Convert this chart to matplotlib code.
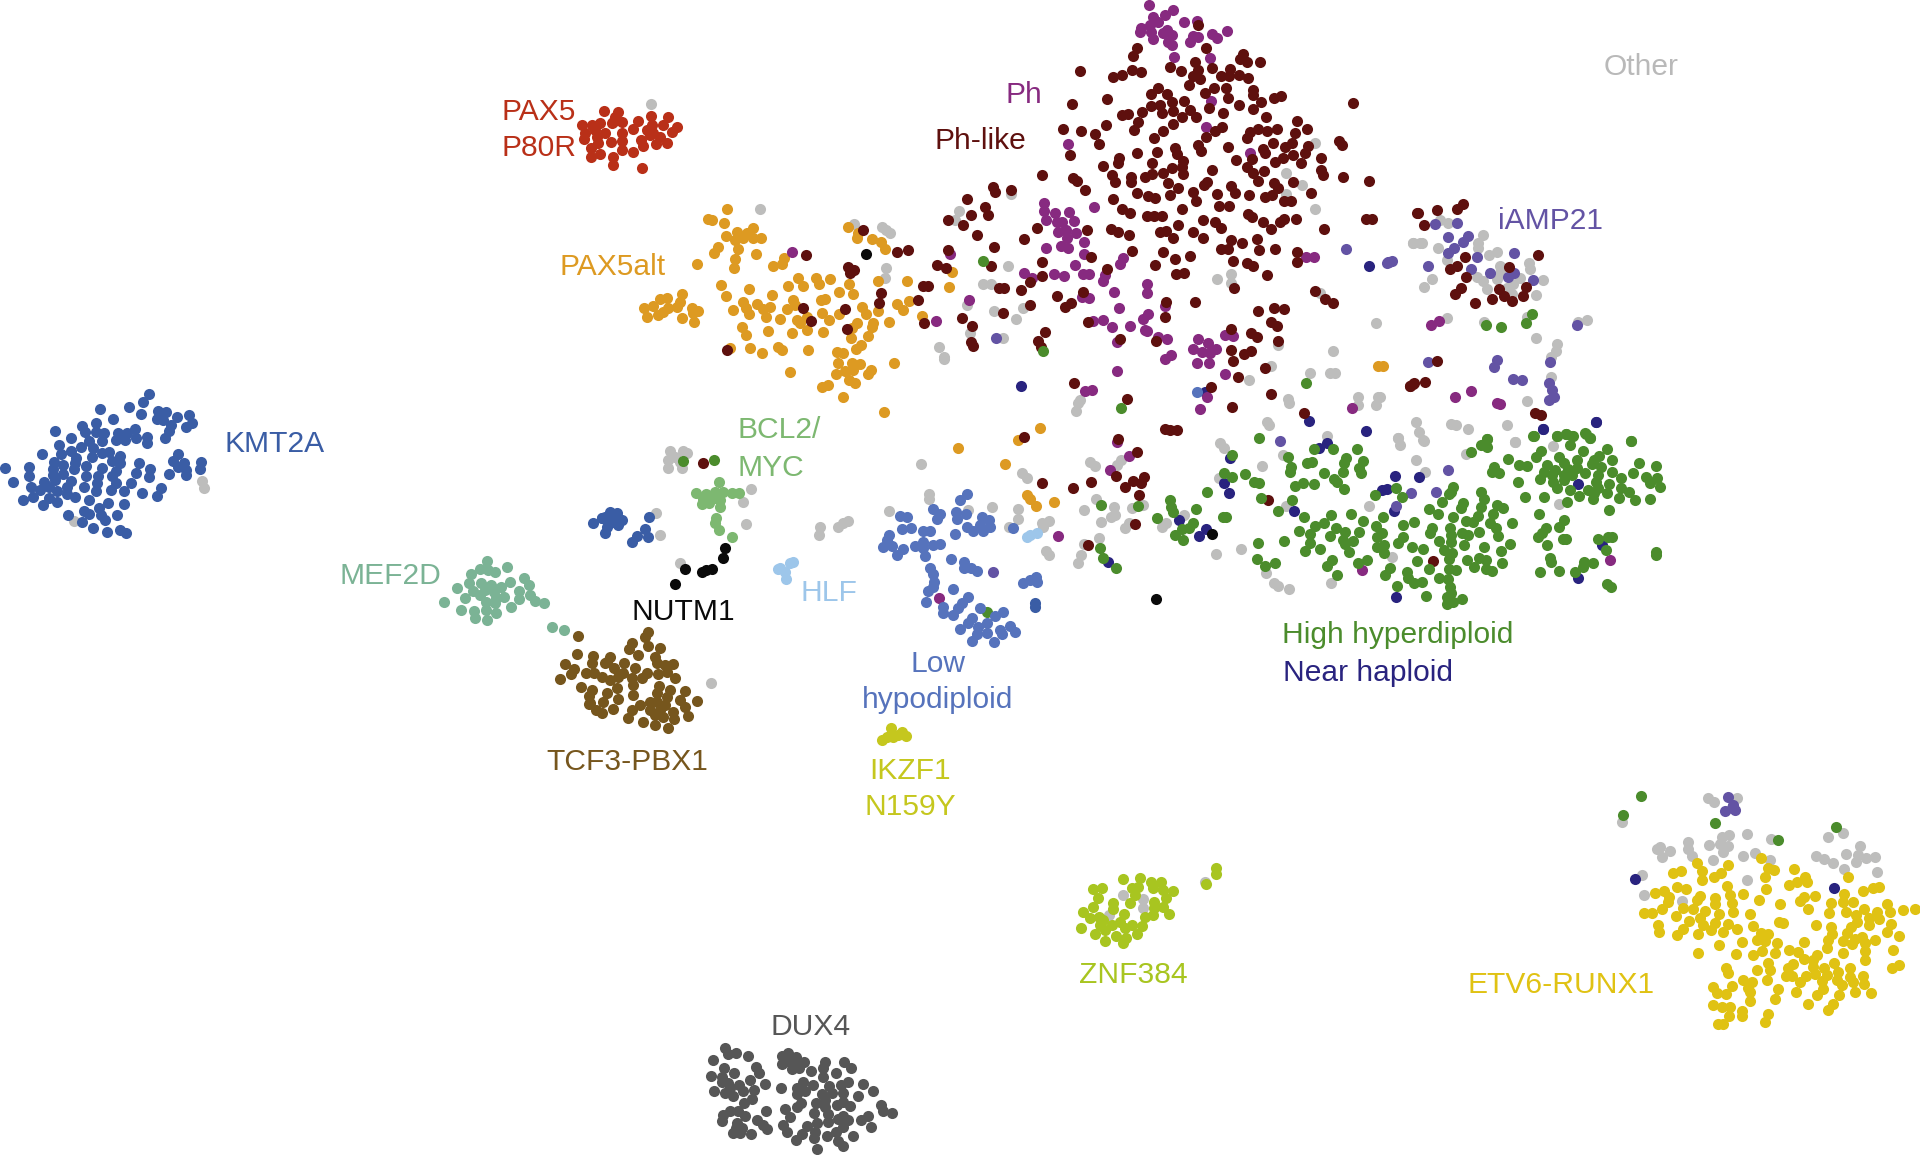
import numpy as np
import matplotlib
matplotlib.use("Agg")
import matplotlib.pyplot as plt

plt.rcParams["font.family"] = ["Liberation Sans", "DejaVu Sans"]

# points were read off enlarged crops of the picture, so each list is in the
# units of its crop: (left, top, x scale, y scale)
C1 = (0, 370, 2.45, 3)
C2 = (480, 80, 3, 3)
C3 = (900, 0, 3, 3)
C4 = (1380, 190, 3, 3)
C5 = (1000, 380, 2.306, 3)
C6 = (600, 400, 3, 3)
C7 = (1600, 780, 3, 3)
C8 = (680, 1020, 3, 3)
C9 = (1060, 850, 3, 3)

kmt2a_c1 = [(366,72),(351,96),(317,112),(345,131),(245,117),(276,148),(387,122),(407,127),(433,140),(464,134),(384,147),(400,150),(420,165),(470,158),(455,172),(415,183),(405,204),(236,160),(202,168),(208,187),(235,185),(256,190),(134,182),(173,204),(288,188),(310,188),(330,176),(285,210),(307,210),(332,205),(361,200),(360,220),(144,224),(218,213),(250,213),(198,232),(228,235),(175,242),(103,252),(150,252),(250,250),(268,247),(226,262),(293,257),(185,265),(275,272),(295,278),(183,278),(340,280),(132,275),(155,285),(437,253),(425,272),(450,280),(492,277),(70,292),(12,293),(130,298),(210,288),(250,293),(182,297),(437,292),(490,297),(285,302),(368,298),(455,300),(130,315),(155,312),(70,318),(210,318),(240,318),(333,310),(413,311),(275,318),(455,315),(365,322),(32,336),(108,335),(135,330),(175,332),(238,340),(283,340),(322,340),(120,350),(75,350),(165,350),(205,352),(97,360),(235,362),(272,360),(305,364),(395,355),(140,362),(347,368),(385,378),(165,372),(183,382),(82,382),(120,385),(219,390),(56,391),(140,397),(264,398),(305,403),(106,406),(243,413),(205,422),(166,434),(219,433),(248,435),(287,436),(257,449),(200,455),(229,473),(293,479),(263,487),(309,488),(1453,460),(1475,445)]
kmt2a_c6 = [(30,335),(15,350),(50,340),(65,360),(40,365),(5,355),(30,355),(55,375),(20,380),(15,400),(45,350),(146,351),(135,388),(110,408),(145,410),(96,427),(1305,610),(1305,622)]
mef2d_c1 = [(1192,574),(1243,591),(1175,597),(1155,611),(1213,605),(1195,600),(1285,625),(1148,638),(1178,640),(1204,645),(1250,637),(1228,650),(1119,653),(1295,646),(1160,662),(1188,660),(1210,665),(1272,662),(1140,683),(1175,675),(1215,685),(1235,680),(1298,675),(1272,687),(1087,696),(1190,695),(1212,700),(1310,694),(1334,698),(1253,710),(1130,721),(1162,722),(1190,720),(1214,729),(1163,745),(1193,750),(1352,771),(1381,779)]
tcf3_c1 = [(1416,799),(1413,853),(1452,858),(1385,881),(1450,880),(1407,897),(1398,913),(1435,909),(1455,910),(1373,926),(1424,951),(1450,960),(1443,977),(1445,1000),(1442,1003),(1461,1020)]
tcf3_c6 = [(145,697),(135,712),(97,730),(145,738),(87,748),(180,744),(115,764),(165,770),(30,770),(22,785),(72,788),(170,790),(195,795),(218,792),(105,803),(42,805),(15,790),(70,820),(140,820),(175,822),(200,815),(225,835),(30,840),(55,830),(95,835),(125,835),(5,830),(100,855),(50,865),(178,858),(210,870),(255,872),(170,880),(20,880),(100,885),(200,890),(55,897),(240,900),(290,904),(150,905),(170,905),(10,905),(120,915),(195,915),(255,920),(40,928),(95,930),(150,930),(180,930),(220,935),(165,945),(265,947),(85,955),(190,950),(130,965),(222,958),(165,975),(203,985),(5,940)]
pax5p80r_c2 = [(372,93),(415,97),(405,110),(513,108),(563,112),(475,124),(305,135),(335,135),(360,130),(395,130),(425,125),(590,141),(548,135),(515,135),(460,148),(500,150),(345,150),(315,160),(375,158),(425,158),(520,160),(575,155),(540,170),(312,178),(350,170),(392,185),(425,183),(483,180),(560,188),(527,192),(488,198),(355,190),(333,205),(426,211),(459,216),(360,222),(332,232),(400,232),(398,254),(487,263),(510,165),(400,125)]
pax5alt_c2 = [(740,386),(683,416),(697,420),(731,429),(820,444),(770,455),(737,467),(800,460),(843,473),(765,480),(820,475),(790,475),(714,502),(703,518),(773,508),(828,523),(912,535),(766,538),(762,564),(878,557),(905,553),(650,552),(1105,441),(1130,475),(1133,458),(1175,477),(1202,485),(1216,508),(1193,604),(1282,602),(1407,620),(1415,575),(722,616),(738,648),(807,627),(875,645),(925,619),(953,593),(968,618),(1007,594),(1017,612),(1049,596),(1108,612),(1120,642),(1076,635),(1035,656),(1022,660),(605,643),(560,654),(540,658),(520,678),(492,683),(600,665),(590,680),(565,683),(635,685),(655,692),(640,700),(502,712),(535,705),(548,697),(606,715),(641,726),(758,689),(790,665),(798,683),(806,702),(832,672),(848,686),(870,682),(857,711),(900,718),(940,660),(945,675),(920,688),(980,712),(950,720),(960,730),(1027,698),(1048,720),(1078,703),(1145,680),(1157,702),(1195,693),(1252,671),(1287,664),(1268,690),(1227,725),(1325,708),(1130,730),(1115,745),(1178,730),(1176,740),(785,742),(798,765),(865,753),(936,759),(981,750),(1028,755),(1164,767),(1112,775),(1143,796),(1127,806),(810,804),(750,805),(845,818),(893,800),(906,811),(984,811),(1070,817),(1088,820),(1075,850),(1117,850),(1140,852),(1241,848),(1172,870),(1165,882),(1120,870),(1095,873),(1068,881),(929,875),(1108,900),(1124,909),(1043,915),(1025,920),(1090,952),(1213,997)]
pax5alt_c3 = [(1433,1097),(1448,1098)]
pax5alt_c6 = [(1075,143),(1215,192),(1255,120),(1320,83),(1280,285),(1290,297),(1308,318),(1363,305)]
ph_c2 = [(937,515)]
ph_c3 = [(748,14),(818,31),(795,44),(758,50),(775,65),(853,67),(890,63),(722,85),(750,75),(720,97),(752,95),(800,90),(815,105),(790,100),(980,92),(935,103),(952,113),(880,108),(895,110),(870,125),(760,118),(805,125),(817,135),(822,170),(930,174),(932,304),(918,380),(505,431),(1050,460),(432,608),(433,634),(465,640),(507,636),(582,622),(437,660),(470,665),(487,665),(523,663),(473,695),(497,690),(527,700),(500,715),(551,725),(437,745),(483,738),(503,745),(552,761),(150,763),(1217,770),(1242,772),(670,773),(660,793),(525,796),(372,819),(395,835),(461,823),(493,828),(548,821),(568,823),(616,826),(610,842),(740,851),(741,878),(641,877),(208,899),(545,890),(566,893),(658,924),(743,943),(796,917),(728,957),(108,963),(580,962),(608,960),(637,980),(690,977),(735,990),(742,992),(775,1010),(800,1018),(650,1026),(975,1005),(998,1007),(893,1018),(923,1028),(878,1047),(948,1047),(905,1055),(930,1060),(892,1088),(928,1088),(812,1066),(796,1077),(651,1112),(976,1121),(554,1172),(576,1170),(922,1190)]
ph_c4 = [(153,404),(178,393),(225,620),(272,604),(350,640),(360,643)]
ph_c5 = [(461,87),(812,85),(270,185),(298,227),(254,270),(134,469),(1407,540),(834,570)]
ph_c6 = [(1017,595)]
phlike_c2 = [(1149,449),(978,526),(1251,517),(1103,560),(1122,569),(1110,578),(1202,638),(1197,668),(968,683),(993,722),(1095,687),(1102,746),(740,811)]
phlike_c3 = [(893,75),(710,143),(700,168),(918,143),(1028,163),(1020,178),(1041,186),(1081,186),(884,186),(541,212),(809,202),(843,214),(697,210),(723,217),(640,232),(666,226),(895,210),(935,204),(990,208),(880,228),(900,238),(963,228),(988,228),(1018,225),(1043,233),(866,255),(775,263),(752,283),(802,282),(941,265),(915,278),(978,265),(985,295),(1058,270),(1058,285),(622,298),(516,312),(815,305),(852,302),(1143,289),(1122,295),(1083,305),(1360,308),(753,318),(780,315),(820,333),(785,338),(870,330),(928,325),(1018,315),(1058,328),(725,335),(665,345),(685,343),(847,350),(888,350),(968,338),(1097,350),(713,365),(619,375),(820,373),(1192,362),(490,387),(702,390),(542,394),(586,403),(965,380),(945,392),(788,394),(1050,395),(1075,388),(1100,392),(1131,387),(1220,388),(1185,398),(918,410),(1040,413),(763,413),(597,433),(1120,430),(1318,424),(1326,435),(894,435),(826,444),(985,441),(1088,448),(1155,440),(1175,430),(1225,437),(903,453),(772,457),(830,462),(1095,460),(1180,465),(1215,460),(511,465),(712,460),(657,475),(1263,473),(1007,481),(1055,478),(850,483),(755,490),(655,490),(1125,487),(1150,475),(1202,490),(610,497),(1040,500),(847,502),(815,505),(935,510),(1262,510),(1092,513),(1268,525),(425,525),(788,520),(755,522),(735,530),(850,523),(1060,520),(636,525),(692,530),(1328,532),(1408,542),(518,535),(530,543),(692,545),(645,545),(1075,543),(1122,548),(1180,546),(805,550),(920,545),(912,556),(993,558),(278,560),(555,570),(835,565),(1135,565),(332,571),(1005,580),(284,575),(880,575),(711,580),(745,588),(950,583),(1047,585),(1234,578),(810,585),(765,595),(1095,590),(1115,586),(639,596),(202,598),(888,603),(1152,603),(1173,604),(255,622),(958,618),(987,617),(846,628),(667,627),(690,638),(264,645),(212,645),(1043,643),(1055,652),(740,648),(762,648),(785,647),(143,660),(1397,656),(1417,656),(1551,638),(910,659),(945,665),(1187,656),(1153,658),(1140,666),(1090,665),(189,675),(412,685),(963,683),(1112,687),(633,687),(835,676),(1273,687),(560,690),(655,697),(688,704),(780,695),(797,693),(878,695),(231,705),(820,715),(910,715),(372,718),(993,721),(1072,717),(1027,728),(282,742),(24,749),(143,750),(695,753),(963,748),(985,748),(1077,750),(1125,748),(788,757),(1192,757),(870,768),(825,778),(572,770),(425,785),(1000,783),(1190,787),(1042,790),(1060,798),(110,796),(138,803),(274,799),(766,795),(620,807),(425,828),(828,821),(853,820),(1100,825),(390,845),(1003,864),(70,857),(84,857),(297,865),(312,863),(363,871),(1244,874),(548,876),(472,889),(55,901),(1275,897),(1300,909),(797,905),(886,907),(390,915),(513,908),(495,921),(1121,925),(1153,926),(1074,932),(308,940),(187,955),(796,951),(217,977),(72,968),(565,965),(1112,966),(1132,978),(434,995),(992,988),(1052,998),(1072,1010),(1133,1024),(212,1025),(220,1038),(413,1022),(422,1040),(661,1016),(768,1023),(993,1051),(1052,1052),(1031,1061),(1000,1084),(1094,1104),(1014,1131),(522,1150),(933,1160),(1530,1157),(1113,1182),(680,1198),(1543,1150)]
phlike_c4 = [(115,68),(172,61),(250,42),(230,58),(133,104),(255,202),(232,229),(210,237),(474,196),(387,231),(258,261),(243,295),(224,313),(438,290),(358,298),(372,317),(430,319),(335,327),(395,333),(286,339),(170,512),(135,576),(100,583),(90,587),(465,670),(482,675)]
phlike_c5 = [(534,80),(700,99),(272,178),(317,216),(268,287),(332,292),(307,303),(326,310),(288,321),(97,309),(209,307),(169,323),(320,345),(617,361),(312,432),(203,494),(999,543),(380,147),(393,150),(408,151),(56,170)]
phlike_c6 = [(309,188)]
iamp21_c3 = [(288,1014),(1337,747),(1468,786),(1460,790)]
iamp21_c4 = [(166,103),(230,100),(263,137),(203,141),(250,157),(222,175),(204,189),(402,189),(291,202),(35,213),(25,217),(145,227),(274,237),(331,249),(402,250),(385,262),(459,269),(590,405),(511,516),(350,511),(343,531),(143,516),(400,568),(425,569),(508,580),(515,600),(522,620),(508,629)]
iamp21_c5 = [(645,183),(1033,270),(947,340),(1005,336),(913,378)]
iamp21_c6 = [(1178,516)]
iamp21_c7 = [(384,52),(400,75),(405,90),(375,92),(395,85)]
hyper_c3 = [(248,782),(430,1053),(1218,1149)]
hyper_c4 = [(457,373),(438,399),(319,405),(362,412),(322,747),(460,738),(532,738),(558,733),(578,738),(617,733),(630,745),(752,752)]
hyper_c5 = [(278,85),(598,175),(535,225),(725,208),(768,208),(823,208),(1123,178),(1110,195),(1122,200),(1087,216),(665,232),(720,245),(707,250),(797,235),(793,250),(837,242),(670,260),(668,275),(828,265),(790,275),(832,278),(748,278),(1231,168),(1285,168),(1305,162),(1320,168),(1350,160),(1360,175),(1315,195),(1454,183),(1400,208),(1345,212),(1248,213),(1237,232),(1288,230),(1382,228),(1370,240),(1412,241),(1172,237),(1330,240),(1300,248),(1473,250),(1513,258),(1196,254),(1215,257),(1262,255),(1140,262),(1365,253),(1387,260),(1310,268),(1330,265),(1412,275),(1135,275),(1150,278),(1255,275),(1280,270),(1350,280),(1460,280),(516,280),(565,282),(535,292),(1380,285),(1272,285),(1300,285),(1320,285),(1490,290),(1515,295),(1433,293),(1245,298),(585,305),(597,308),(770,298),(778,305),(1195,307),(1275,305),(1300,300),(1375,305),(1405,312),(1500,310),(1523,322),(680,317),(698,310),(723,313),(1285,325),(1315,330),(1355,330),(1380,325),(1433,325),(793,327),(1045,320),(1040,335),(913,325),(478,335),(1110,335),(1335,348),(1370,340),(1400,340),(1450,335),(1255,350),(1427,355),(865,346),(927,352),(1210,352),(1115,358),(1500,356),(392,361),(1035,342),(1020,365),(1465,360),(1368,358),(603,355),(673,359),(1067,370),(1110,380),(1145,375),(1160,385),(1308,365),(232,375),(318,378),(395,380),(400,395),(640,392),(452,388),(990,387),(1062,385),(1405,391),(763,404),(810,401),(1010,403),(1243,403),(702,410),(362,413),(515,410),(522,410),(883,410),(1045,410),(1103,408),(1137,403),(1300,420),(838,424),(955,426),(727,437),(748,428),(929,435),(1075,423),(1090,425),(1130,430),(868,437),(775,443),(445,428),(997,443),(1038,443),(1180,430),(1290,440),(1258,445),(690,453),(795,455),(827,457),(435,445),(420,448),(880,460),(992,458),(1065,458),(1105,455),(1143,445),(1250,460),(1148,468),(404,465),(716,463),(760,467),(930,470),(1080,465),(1040,465),(870,472),(1240,470),(1298,477),(1305,477),(1380,477),(1403,470),(1412,472),(422,480),(790,480),(814,482),(1013,482),(1040,487),(716,488),(595,490),(654,484),(1177,491),(230,503),(737,506),(795,492),(870,500),(885,495),(917,490),(950,502),(1070,495),(1117,500),(975,508),(1262,495),(704,513),(805,515),(885,520),(1025,510),(1042,520),(1155,512),(1397,510),(1513,515),(1513,525),(238,533),(593,537),(635,550),(1035,537),(1268,533),(1078,540),(1105,535),(846,539),(612,557),(765,540),(755,557),(826,548),(962,544),(1120,540),(1158,549),(1347,545),(1270,547),(1368,550),(268,563),(900,563),(1035,568),(990,568),(1093,560),(1052,571),(1120,567),(1135,572),(1345,562),(1245,576),(1288,574),(1325,577),(778,585),(888,584),(938,575),(942,595),(1012,595),(1032,598),(955,610),(972,605),(1400,612),(915,618),(1408,620),(1038,622),(983,647),(1030,650),(1040,640),(1065,656),(1030,673),(1045,667)]
hyper_c6 = [(250,183),(343,180),(1160,635)]
hyper_c7 = [(122,47),(69,106),(344,130),(535,181),(708,142)]
near_c3 = [(362,1157),(915,1175),(1407,797)]
near_c4 = [(648,697),(490,716)]
near_c5 = [(713,122),(843,154),(753,188),(735,205),(530,235),(1253,147),(1374,127),(910,287),(967,290),(517,310),(1333,312),(528,338),(880,330),(892,328),(677,392),(908,393),(413,419),(476,448),(458,468),(1388,495),(248,546),(1334,594),(913,650)]
near_c7 = [(106,298),(703,324)]
lowhypo_c3 = [(890,1175)]
lowhypo_c6 = [(1100,282),(1080,300),(900,347),(922,351),(998,328),(1020,342),(1068,335),(1098,342),(1012,357),(1072,357),(1145,350),(1168,360),(1100,380),(1140,375),(905,387),(932,384),(970,392),(990,392),(1170,380),(1118,392),(1150,392),(1240,383),(1065,403),(868,405),(862,420),(968,425),(1020,433),(998,436),(945,438),(850,440),(875,438),(908,447),(890,465),(970,445),(975,468),(1052,476),(1092,487),(1093,505),(1112,505),(1132,512),(990,505),(1000,522),(1002,545),(1000,560),(985,572),(1058,567),(1105,590),(1085,610),(979,606),(1030,620),(1075,625),(1028,640),(1060,645),(1140,625),(1210,635),(1185,648),(1115,655),(1105,670),(1160,668),(1080,687),(1135,680),(1230,677),(1200,690),(1245,695),(1160,700),(1205,703),(1130,702),(1115,722),(1183,725),(1307,530),(1290,540),(1268,548),(1310,545)]
bcl2_c6 = [(356,245),(287,278),(318,282),(345,275),(370,275),(395,278),(418,280),(310,297),(335,290),(360,300),(305,313),(327,310),(360,320),(347,353),(345,370),(358,390),(397,410),(345,295),(315,295)]
nutm1_c2 = [(1157,521)]
nutm1_c5 = [(490,462),(360,656)]
nutm1_c6 = [(376,445),(369,475),(254,506),(337,507),(305,515),(318,510),(226,551)]
hlf_c6 = [(580,485),(570,490),(540,505),(555,515),(558,537),(535,508),(1280,410),(1290,405),(1312,398)]
ikzf1_c6 = [(872,985),(905,995),(918,1007),(895,1005),(880,1010),(860,1010),(845,1020),(880,1005)]
etv6_c7 = [(482,234),(290,248),(384,256),(218,279),(243,274),(305,273),(362,279),(342,290),(505,265),(522,270),(582,268),(305,299),(496,290),(745,290),(614,292),(620,305),(590,307),(567,315),(380,319),(232,320),(258,327),(192,332),(166,339),(498,326),(837,322),(820,325),(790,332),(428,341),(390,345),(300,348),(208,352),(645,347),(732,343),(345,355),(290,360),(612,352),(601,362),(476,360),(205,365),(395,368),(345,372),(730,367),(758,367),(541,371),(692,370),(250,385),(278,388),(187,388),(316,392),(862,373),(624,386),(793,386),(910,390),(944,386),(398,396),(132,400),(155,400),(450,402),(228,409),(358,403),(688,399),(738,397),(870,397),(832,395),(767,405),(300,415),(267,422),(345,430),(808,415),(838,418),(770,425),(536,427),(550,429),(649,436),(310,435),(385,433),(173,435),(872,432),(460,437),(752,440),(808,435),(248,447),(333,451),(411,446),(692,442),(370,456),(176,456),(230,464),(294,462),(861,457),(740,460),(695,463),(785,470),(896,467),(505,463),(482,460),(765,478),(471,480),(495,482),(685,480),(825,479),(425,486),(728,484),(755,493),(357,494),(530,490),(612,487),(795,490),(680,505),(795,512),(880,510),(567,511),(294,520),(595,515),(524,518),(485,514),(460,525),(409,522),(729,519),(650,525),(612,537),(640,540),(795,540),(503,549),(578,552),(703,550),(897,554),(875,563),(377,565),(470,571),(510,570),(565,565),(640,560),(672,565),(750,563),(558,588),(575,588),(383,578),(617,587),(645,582),(715,577),(680,585),(790,587),(600,606),(428,600),(501,600),(665,603),(710,600),(750,590),(455,606),(760,607),(339,620),(395,618),(725,615),(792,612),(445,625),(533,627),(670,628),(588,635),(350,640),(378,642),(450,637),(652,645),(766,635),(812,638),(716,645),(524,656),(450,664),(700,672),(340,675),(365,680),(390,680),(625,671),(427,692),(685,690),(505,703),(387,709),(427,708),(495,726),(355,732),(370,732)]
dux4_c8 = [(135,85),(145,102),(168,100),(205,109),(100,120),(228,140),(133,145),(163,158),(237,158),(92,168),(125,170),(210,181),(125,187),(145,190),(255,191),(178,195),(150,205),(103,214),(190,212),(222,210),(135,220),(160,228),(215,238),(193,250),(150,272),(175,272),(130,285),(257,274),(195,287),(127,302),(232,301),(170,310),(248,315),(262,327),(185,325),(168,325),(160,340),(180,338),(212,341),(325,100),(305,108),(348,110),(373,125),(305,133),(330,125),(355,125),(335,148),(358,145),(394,153),(435,125),(430,145),(491,125),(512,143),(468,160),(430,170),(370,185),(400,195),(503,185),(483,195),(447,197),(548,193),(303,205),(350,205),(375,212),(580,214),(350,222),(425,222),(455,218),(490,220),(534,229),(362,250),(352,262),(407,248),(435,240),(490,245),(470,255),(510,258),(435,260),(603,255),(610,272),(637,278),(316,268),(402,279),(443,282),(563,287),(330,292),(490,287),(445,305),(475,297),(505,300),(543,300),(310,315),(410,310),(380,317),(490,320),(572,320),(322,335),(405,335),(468,335),(365,342),(440,348),(520,347),(347,360),(403,355),(475,362),(488,377),(412,388)]
znf384_c9 = [(190,87),(239,83),(272,95),(303,97),(100,118),(127,114),(115,143),(215,115),(235,110),(280,115),(310,120),(340,124),(225,135),(318,145),(160,160),(283,155),(210,160),(100,172),(158,178),(282,175),(310,170),(69,186),(192,192),(327,193),(280,195),(255,200),(90,205),(118,200),(130,210),(180,215),(120,225),(155,225),(215,225),(62,234),(245,228),(195,235),(135,240),(105,253),(232,253),(168,258),(198,265),(136,272),(188,278),(467,54),(468,73),(437,103)]
other_c1 = [(494,333),(501,355),(182,452)]
other_c2 = [(512,72),(841,388),(1123,433),(1205,440),(1218,450),(1230,459),(1218,565),(1215,593)]
other_c3 = [(1245,428),(1158,519),(1207,554),(1157,583),(1244,628),(178,633),(165,660),(332,582),(1540,730),(1560,728),(324,799),(248,851),(272,853),(950,838),(993,823),(993,848),(200,915),(281,932),(370,925),(347,956),(210,1000),(308,1015),(116,1041),(131,1070),(131,1078),(1428,968),(1300,1054),(1133,1035),(1112,1099),(1230,1120),(1290,1118),(1305,1120),(1048,1140),(1260,880),(1375,1190),(1435,1190),(1165,1197),(540,1200)]
other_c4 = [(180,90),(205,100),(310,135),(100,160),(127,158),(295,160),(295,175),(173,174),(350,185),(328,194),(200,210),(360,228),(448,219),(450,238),(155,268),(132,291),(292,260),(308,272),(350,268),(420,265),(488,270),(322,296),(400,282),(380,295),(467,315),(360,250),(396,312),(200,385),(312,395),(440,380),(620,390),(595,397),(467,444),(532,461),(527,484),(513,500),(512,560),(440,632),(108,696),(118,725),(212,702),(228,706),(264,717),(380,705),(53,745),(405,755),(130,750),(0,620)]
other_c5 = [(180,70),(175,92),(667,68),(825,75),(868,75),(615,125),(620,135),(753,168),(978,182),(918,175),(922,195),(1188,185),(1275,198),(508,188),(516,205),(653,225),(1075,222),(605,257),(960,240),(980,275),(207,245),(218,257),(278,240),(270,255),(50,280),(62,293),(505,293),(222,358),(850,378),(1288,372),(660,378),(42,387),(194,391),(264,380),(305,385),(330,375),(42,417),(425,405),(265,405),(255,412),(233,426),(112,422),(97,430),(100,440),(383,428),(373,440),(298,430),(288,445),(20,440),(229,475),(193,491),(107,512),(112,525),(187,525),(180,548),(497,521),(555,508),(903,530),(614,580),(632,610),(640,617),(667,628),(763,610)]
other_c6 = [(210,152),(250,152),(260,158),(225,170),(205,180),(240,185),(203,204),(246,204),(167,340),(179,406),(453,268),(428,305),(438,373),(240,488),(660,380),(657,404),(713,380),(728,370),(743,363),(964,191),(987,282),(987,298),(868,332),(1105,330),(1175,322),(333,850)]
other_c7 = [(65,126),(323,55),(342,66),(412,54),(388,165),(365,170),(442,163),(513,177),(730,158),(685,172),(263,187),(326,196),(385,199),(360,192),(180,200),(170,207),(210,214),(186,232),(265,207),(275,228),(368,217),(466,220),(428,229),(339,240),(511,240),(647,228),(673,236),(698,248),(737,221),(779,198),(775,225),(767,247),(797,235),(826,230),(733,266),(832,275),(125,285),(442,300),(131,345),(245,362)]
other_c9 = [(189,135),(250,148),(250,173),(147,194),(435,95)]

labels = ["KMT2A", "MEF2D", "TCF3-PBX1", "PAX5\nP80R", "PAX5alt", "Ph", "Ph-like", "iAMP21",
          "High hyperdiploid", "Near haploid", "Low\nhypodiploid", "BCL2/\nMYC", "NUTM1", "HLF",
          "IKZF1\nN159Y", "ETV6-RUNX1", "DUX4", "ZNF384", "Other"]


def crop_pts(pts, crop):
    a = np.array(pts, dtype=float)
    x0, y0, kx, ky = crop
    return x0 + a[:, 0] / kx, y0 + a[:, 1] / ky


def draw(color, *groups):
    for pts, crop in groups:
        x, y = crop_pts(pts, crop)
        ax.scatter(x, y, s=64, color=color, linewidths=0, clip_on=False)


fig = plt.figure(figsize=(19.2, 11.55), dpi=100)
ax = fig.add_axes([0, 0, 1, 1])
ax.set_xlim(0, 1920)
ax.set_ylim(1155, 0)
ax.axis("off")

GREY = "#bdbdbc"
draw(GREY, (other_c1, C1), (other_c2, C2), (other_c3, C3), (other_c4, C4), (other_c5, C5),
     (other_c6, C6), (other_c7, C7), (other_c9, C9))
draw("#29237f", (near_c3, C3), (near_c4, C4), (near_c5, C5), (near_c7, C7))
draw("#6353a4", (iamp21_c3, C3), (iamp21_c4, C4), (iamp21_c5, C5), (iamp21_c6, C6), (iamp21_c7, C7))
draw("#dd9a22", (pax5alt_c2, C2), (pax5alt_c3, C3), (pax5alt_c6, C6))
draw("#872a80", (ph_c2, C2), (ph_c3, C3), (ph_c4, C4), (ph_c5, C5), (ph_c6, C6))
draw("#5e100e", (phlike_c2, C2), (phlike_c3, C3), (phlike_c4, C4), (phlike_c5, C5), (phlike_c6, C6))
draw("#4b8c2c", (hyper_c3, C3), (hyper_c4, C4), (hyper_c5, C5), (hyper_c6, C6), (hyper_c7, C7))
draw("#5673bc", (lowhypo_c3, C3), (lowhypo_c6, C6))
draw("#3a5da5", (kmt2a_c1, C1), (kmt2a_c6, C6))
draw("#7bb395", (mef2d_c1, C1))
draw("#76561d", (tcf3_c1, C1), (tcf3_c6, C6))
draw("#b93018", (pax5p80r_c2, C2))
draw("#7db871", (bcl2_c6, C6))
draw("#0a0a0a", (nutm1_c2, C2), (nutm1_c5, C5), (nutm1_c6, C6))
draw("#9dc6ea", (hlf_c6, C6))
draw("#c5c71e", (ikzf1_c6, C6))
draw("#e0c213", (etv6_c7, C7))
draw("#565656", (dux4_c8, C8))
draw("#a8c520", (znf384_c9, C9))

label_style = [
    (275, 444, "#3a5da5", "center", 1.34), (390, 576, "#7bb395", "center", 1.34), (627, 762, "#76561d", "center", 1.34),
    (576, 130, "#b93018", "right", 1.34), (613, 267, "#dd9a22", "center", 1.34), (1024, 95, "#872a80", "center", 1.34),
    (980, 141, "#5e100e", "center", 1.34), (1550, 221, "#6353a4", "center", 1.34), (1398, 635, "#4b8c2c", "center", 1.34),
    (1368, 673, "#29237f", "center", 1.34), (938, 682, "#5673bc", "center", 1.34), (737, 449, "#7db871", "left", 1.43),
    (683, 612, "#0a0a0a", "center", 1.34), (829, 593, "#9dc6ea", "center", 1.34), (910, 789, "#c5c71e", "center", 1.34),
    (1561, 985, "#e0c213", "center", 1.34), (811, 1027, "#565656", "center", 1.34), (1133, 975, "#a8c520", "center", 1.34),
    (1641, 67, "#b9b9b9", "center", 1.34),
]
for name, (x, y, col, ha, ls) in zip(labels, label_style):
    ax.text(x, y, name, color=col, ha=ha, va="center", fontsize=21.6, linespacing=ls, multialignment=ha)

fig.savefig("out.png", dpi=100)
